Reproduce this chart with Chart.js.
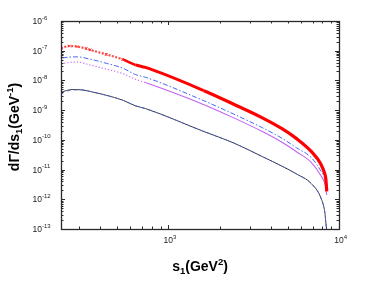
<!DOCTYPE html>
<html>
<head>
<meta charset="utf-8">
<script src="https://cdn.jsdelivr.net/npm/chart.js@4.4.1/dist/chart.umd.min.js"></script>
<style>
  html, body { margin: 0; padding: 0; background: #fff; }
  #wrap { width: 374px; height: 281px; }
</style>
</head>
<body>
<div id="wrap"><canvas id="c" width="374" height="281"></canvas></div>
<script>
// --- DATA (s1 in GeV^2, dGamma/ds1 in GeV^-1) ---
const xRange = [235, 10000];
const yRange = [1e-13, 1e-6];
const xTickExps = [3, 4];
const yTickExps = [-6, -7, -8, -9, -10, -11, -12, -13];

const sRed = [235, 263, 292, 330, 348, 433, 540, 643, 734, 1618, 2400, 3556, 4634, 5640, 6870, 7840, 8260, 8370, 8480];
const dRed = [1.21e-7, 1.44e-7, 1.38e-7, 1.18e-7, 1.07e-7, 7.5e-8, 5.1e-8, 3.32e-8, 2.73e-8, 4.5e-9, 1.61e-9, 5.5e-10, 2.37e-10, 1.1e-10, 4.1e-11, 1.5e-11, 7.1e-12, 4.9e-12, 1.86e-12];

const sDashDot = [240, 263, 292, 348, 433, 540, 643, 734, 1618, 2400, 3556, 4634, 5640, 6870, 7840, 8260, 8370, 8480];
const dDashDot = [5.7e-8, 6.1e-8, 6.2e-8, 5.2e-8, 3.77e-8, 2.6e-8, 1.57e-8, 1.28e-8, 2.06e-9, 7.5e-10, 2.56e-10, 1.13e-10, 5.4e-11, 2.54e-11, 8.9e-12, 4.9e-12, 3.4e-12, 2.0e-12];

const sViolet = [245, 263, 292, 348, 433, 540, 643, 734, 1618, 2400, 3556, 4634, 5640, 6870, 7840, 8260, 8370, 8480];
const dViolet = [3.77e-8, 4.06e-8, 4.15e-8, 3.3e-8, 2.41e-8, 1.7e-8, 1.09e-8, 8.5e-9, 1.53e-9, 5.6e-10, 1.9e-10, 8.3e-11, 4.0e-11, 1.75e-11, 6.2e-12, 3.4e-12, 2.5e-12, 1.4e-12];

const sLow = [235, 273, 312, 348, 433, 540, 643, 734, 1618, 2400, 3556, 4634, 5640, 6870, 7840, 8260, 8370, 8480];
const dBlack = [4.03e-9, 4.93e-9, 4.8e-9, 4.25e-9, 3.16e-9, 2.17e-9, 1.39e-9, 1.13e-9, 1.9e-10, 8.0e-11, 2.73e-11, 1.3e-11, 7.1e-12, 3.4e-12, 1.1e-12, 3.6e-13, 1.7e-13, 8.7e-14];
const dBlueDash = [3.5e-9, 4.8e-9, 4.8e-9, 4.25e-9, 3.16e-9, 2.17e-9, 1.39e-9, 1.13e-9, 1.9e-10, 8.0e-11, 2.73e-11, 1.3e-11, 7.1e-12, 3.4e-12, 1.1e-12, 3.6e-13, 1.7e-13, 8.7e-14];

const FONT = "'Liberation Sans', Arial, Helvetica, sans-serif";
const pts = (xs, ys) => xs.map((x, i) => ({ x, y: ys[i] }));

// rich text: parts = [text, size, dy]
function drawRich(ctx, parts, x, y, align, weight) {
  let w = 0;
  parts.forEach(p => { ctx.font = `${weight} ${p[1]}px ${FONT}`; w += ctx.measureText(p[0]).width; });
  let cx = align === 'center' ? x - w / 2 : align === 'right' ? x - w : x;
  parts.forEach(p => {
    ctx.font = `${weight} ${p[1]}px ${FONT}`;
    ctx.fillText(p[0], cx, y + p[2]);
    cx += ctx.measureText(p[0]).width;
  });
}

function minorValues(min, max) {
  const out = [];
  for (let e = Math.floor(Math.log10(min)); e < Math.ceil(Math.log10(max)); e++) {
    for (let k = 1; k <= 9; k++) {
      const v = k * Math.pow(10, e);
      if (v >= min * 0.999 && v <= max * 1.001) out.push({ v, major: k === 1 });
    }
  }
  return out;
}

// MATLAB-like box with inward ticks, tick labels and axis titles
const axesBox = {
  id: 'axesBox',
  afterDatasetsDraw(chart) {
    const { ctx, chartArea: a, scales: { x, y } } = chart;
    ctx.save();
    ctx.strokeStyle = '#2a2a2a';
    ctx.lineWidth = 1;
    ctx.beginPath();
    minorValues(xRange[0], xRange[1]).forEach(t => {
      const px = Math.round(x.getPixelForValue(t.v)) + 0.5;
      const len = t.major ? 4 : 2.5;
      ctx.moveTo(px, a.bottom); ctx.lineTo(px, a.bottom - len);
      ctx.moveTo(px, a.top); ctx.lineTo(px, a.top + len);
    });
    minorValues(yRange[0], yRange[1]).forEach(t => {
      const py = Math.round(y.getPixelForValue(t.v)) + 0.5;
      const len = t.major ? 4 : 2.5;
      ctx.moveTo(a.left, py); ctx.lineTo(a.left + len, py);
      ctx.moveTo(a.right, py); ctx.lineTo(a.right - len, py);
    });
    ctx.stroke();
    ctx.lineWidth = 1.3;
    ctx.strokeRect(Math.round(a.left) + 0.5, Math.round(a.top) + 0.5,
      Math.round(a.right - a.left), Math.round(a.bottom - a.top));

    // tick labels
    ctx.fillStyle = '#222';
    ctx.textBaseline = 'alphabetic';
    xTickExps.forEach(e => {
      const px = x.getPixelForValue(Math.pow(10, e));
      ctx.font = `8.5px ${FONT}`;
      const w10 = ctx.measureText('10').width;
      drawRich(ctx, [['10', 8.5, 0], [String(e), 6, -4.5]], px - w10 / 2, a.bottom + 14, 'left', 'normal');
    });
    yTickExps.forEach(e => {
      const py = y.getPixelForValue(Math.pow(10, e));
      ctx.font = `8.5px ${FONT}`;
      const w10 = ctx.measureText('10').width;
      drawRich(ctx, [['10', 8.5, 0], ['-' + String(-e), 6, -4.5]], 42 - w10, py + 3, 'left', 'normal');
    });

    // axis titles
    ctx.fillStyle = '#000';
    drawRich(ctx, [['s', 14, 0], ['1', 9.5, 3], ['(GeV', 14, 0], ['2', 9.5, -6], [')', 14, 0]],
      (a.left + a.right) / 2, 271, 'center', 'bold');
    ctx.translate(18.5, (a.top + a.bottom) / 2 + 2);
    ctx.rotate(-Math.PI / 2);
    drawRich(ctx, [['d\u0393/ds', 14, 0], ['1', 9.5, 3], ['(GeV', 14, 0], ['-1', 9.5, -6], [')', 14, 0]],
      0, 0, 'center', 'bold');
    ctx.restore();
  }
};

// red marker series: sparse crosses at low s, merging into a thick band
const redWidth = s => (s < 440 ? 2.2 : s < 600 ? 2.5 : s < 740 ? 2.9 : undefined);

new Chart(document.getElementById('c'), {
  type: 'line',
  data: {
    datasets: [
      {
        data: pts(sRed, dRed),
        borderColor: '#ff0000', borderWidth: 3.2,
        pointStyle: 'crossRot', pointBorderColor: '#ff3030', pointBorderWidth: 1,
        pointRadius: c => (c.raw && c.raw.x < 560 ? 1.8 : 0),
        segment: {
          borderWidth: c => redWidth(c.p0.parsed.x),
          borderDash: c => (c.p0.parsed.x < 440 ? [2, 1.5] : undefined),
          borderColor: c => (c.p0.parsed.x < 440 ? '#ff4a4a' : undefined)
        },
        cubicInterpolationMode: 'monotone'
      },
      {
        data: pts(sDashDot, dDashDot),
        borderColor: '#4a66f2', borderWidth: 1, borderDash: [5, 2, 1.5, 2],
        pointRadius: 0, cubicInterpolationMode: 'monotone'
      },
      {
        data: pts(sViolet, dViolet),
        borderColor: '#c062f2', borderWidth: 1.1,
        segment: { borderDash: c => (c.p0.parsed.x < 700 ? [1.2, 2] : undefined) },
        pointRadius: 0, cubicInterpolationMode: 'monotone'
      },
      {
        data: pts(sLow, dBlueDash),
        borderColor: '#4a66e8', borderWidth: 1, borderDash: [3, 4],
        pointRadius: 0, cubicInterpolationMode: 'monotone'
      },
      {
        data: pts(sLow, dBlack),
        borderColor: '#3a3a3a', borderWidth: 1,
        pointRadius: 0, cubicInterpolationMode: 'monotone'
      }
    ]
  },
  options: {
    responsive: false,
    animation: false,
    devicePixelRatio: 1,
    layout: { padding: { left: 53, right: 35, top: 21, bottom: 44 } },
    plugins: { legend: { display: false }, tooltip: { enabled: false } },
    scales: {
      x: {
        type: 'logarithmic', min: xRange[0], max: xRange[1],
        ticks: { display: false }, grid: { display: false }, border: { display: false }
      },
      y: {
        type: 'logarithmic', min: yRange[0], max: yRange[1],
        ticks: { display: false }, grid: { display: false }, border: { display: false }
      }
    }
  },
  plugins: [axesBox]
});
</script>
</body>
</html>
